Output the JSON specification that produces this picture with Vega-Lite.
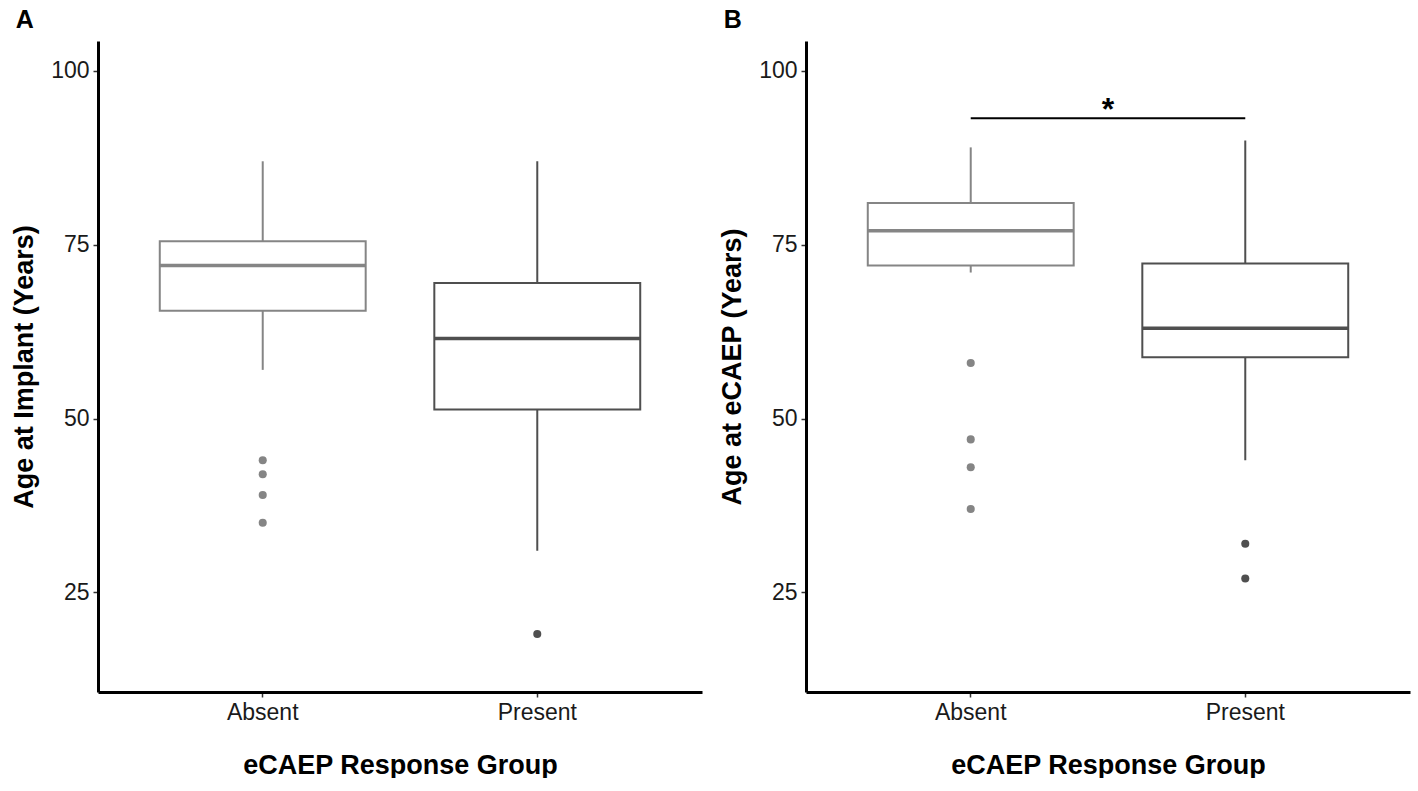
{
  "$schema": "https://vega.github.io/schema/vega-lite/v6.json",
  "background": "white",
  "padding": {"left": 10, "top": 8, "right": 5, "bottom": 0},
  "spacing": 16,
  "config": {
    "view": {"stroke": null},
    "font": "Liberation Sans",
    "axis": {
      "grid": false,
      "domainColor": "black",
      "domainWidth": 3,
      "tickColor": "#333333",
      "tickWidth": 1.5,
      "tickSize": 5,
      "labelFont": "Liberation Sans",
      "labelFontSize": 23,
      "labelColor": "#1a1a1a",
      "labelPadding": 4,
      "titleFont": "Liberation Sans",
      "titleFontSize": 27,
      "titleFontWeight": "bold",
      "titleColor": "black"
    },
    "axisX": {"labelAngle": 0, "titlePadding": 28},
    "axisY": {"titlePadding": 12},
    "title": {
      "font": "Liberation Sans",
      "fontSize": 25,
      "fontWeight": "bold",
      "color": "black",
      "anchor": "start",
      "frame": "bounds",
      "dx": 5,
      "offset": 8
    }
  },
  "datasets": {
    "boxes": [
      {"panel": "A", "group": "Absent", "lower": 57, "q1": 65.5, "median": 72, "q3": 75.5, "upper": 87},
      {"panel": "A", "group": "Present", "lower": 31, "q1": 51.3, "median": 61.5, "q3": 69.5, "upper": 87},
      {"panel": "B", "group": "Absent", "lower": 71, "q1": 72, "median": 77, "q3": 81, "upper": 89},
      {"panel": "B", "group": "Present", "lower": 44, "q1": 58.8, "median": 63, "q3": 72.3, "upper": 90}
    ],
    "outliers": [
      {"panel": "A", "group": "Absent", "age": 44},
      {"panel": "A", "group": "Absent", "age": 42},
      {"panel": "A", "group": "Absent", "age": 39},
      {"panel": "A", "group": "Absent", "age": 35},
      {"panel": "A", "group": "Present", "age": 19},
      {"panel": "B", "group": "Absent", "age": 58},
      {"panel": "B", "group": "Absent", "age": 47},
      {"panel": "B", "group": "Absent", "age": 43},
      {"panel": "B", "group": "Absent", "age": 37},
      {"panel": "B", "group": "Present", "age": 32},
      {"panel": "B", "group": "Present", "age": 27}
    ],
    "signif": [
      {"from": 1, "to": 2, "mid": 1.5, "y": 93.2, "label": "*"}
    ]
  },
  "hconcat": [
    {
      "title": {"text": "A"},
      "width": 604,
      "height": 651,
      "layer": [
        {
          "data": {"name": "boxes"},
          "transform": [{"filter": "datum.panel == 'A'"}],
          "mark": {"type": "rule", "strokeWidth": 2},
          "encoding": {
            "x": {"field": "group", "type": "nominal", "title": "eCAEP Response Group",
                  "scale": {"paddingInner": 0.25, "paddingOuter": 0.225}},
            "y": {"field": "lower", "type": "quantitative", "title": "Age at Implant (Years)",
                  "scale": {"domain": [10.67, 104.3], "nice": false, "zero": false},
                  "axis": {"values": [25, 50, 75, 100]}},
            "y2": {"field": "upper"},
            "color": {"field": "group", "type": "nominal", "legend": null,
                      "scale": {"domain": ["Absent", "Present"], "range": ["#858585", "#4f4f4f"]}}
          }
        },
        {
          "data": {"name": "boxes"},
          "transform": [{"filter": "datum.panel == 'A'"}],
          "mark": {"type": "bar", "fill": "white", "strokeWidth": 2},
          "encoding": {
            "x": {"field": "group", "type": "nominal"},
            "y": {"field": "q1", "type": "quantitative"},
            "y2": {"field": "q3"},
            "stroke": {"field": "group", "type": "nominal", "legend": null,
                       "scale": {"domain": ["Absent", "Present"], "range": ["#858585", "#4f4f4f"]}}
          }
        },
        {
          "data": {"name": "boxes"},
          "transform": [{"filter": "datum.panel == 'A'"}],
          "mark": {"type": "tick", "thickness": 3.5, "size": 206, "opacity": 1},
          "encoding": {
            "x": {"field": "group", "type": "nominal"},
            "y": {"field": "median", "type": "quantitative"},
            "color": {"field": "group", "type": "nominal", "legend": null}
          }
        },
        {
          "data": {"name": "outliers"},
          "transform": [{"filter": "datum.panel == 'A'"}],
          "mark": {"type": "circle", "size": 65, "opacity": 1},
          "encoding": {
            "x": {"field": "group", "type": "nominal"},
            "y": {"field": "age", "type": "quantitative"},
            "color": {"field": "group", "type": "nominal", "legend": null}
          }
        }
      ]
    },
    {
      "title": {"text": "B"},
      "width": 604,
      "height": 651,
      "resolve": {"scale": {"x": "independent"}},
      "layer": [
        {
          "layer": [
            {
              "data": {"name": "boxes"},
              "transform": [{"filter": "datum.panel == 'B'"}],
              "mark": {"type": "rule", "strokeWidth": 2},
              "encoding": {
                "x": {"field": "group", "type": "nominal", "title": "eCAEP Response Group",
                      "scale": {"paddingInner": 0.25, "paddingOuter": 0.225}},
                "y": {"field": "lower", "type": "quantitative", "title": "Age at eCAEP (Years)",
                      "scale": {"domain": [10.67, 104.3], "nice": false, "zero": false},
                      "axis": {"values": [25, 50, 75, 100]}},
                "y2": {"field": "upper"},
                "color": {"field": "group", "type": "nominal", "legend": null,
                          "scale": {"domain": ["Absent", "Present"], "range": ["#858585", "#4f4f4f"]}}
              }
            },
            {
              "data": {"name": "boxes"},
              "transform": [{"filter": "datum.panel == 'B'"}],
              "mark": {"type": "bar", "fill": "white", "strokeWidth": 2},
              "encoding": {
                "x": {"field": "group", "type": "nominal"},
                "y": {"field": "q1", "type": "quantitative"},
                "y2": {"field": "q3"},
                "stroke": {"field": "group", "type": "nominal", "legend": null,
                           "scale": {"domain": ["Absent", "Present"], "range": ["#858585", "#4f4f4f"]}}
              }
            },
            {
              "data": {"name": "boxes"},
              "transform": [{"filter": "datum.panel == 'B'"}],
              "mark": {"type": "tick", "thickness": 3.5, "size": 206, "opacity": 1},
              "encoding": {
                "x": {"field": "group", "type": "nominal"},
                "y": {"field": "median", "type": "quantitative"},
                "color": {"field": "group", "type": "nominal", "legend": null}
              }
            },
            {
              "data": {"name": "outliers"},
              "transform": [{"filter": "datum.panel == 'B'"}],
              "mark": {"type": "circle", "size": 65, "opacity": 1},
              "encoding": {
                "x": {"field": "group", "type": "nominal"},
                "y": {"field": "age", "type": "quantitative"},
                "color": {"field": "group", "type": "nominal", "legend": null}
              }
            }
          ]
        },
        {
          "data": {"name": "signif"},
          "layer": [
            {
              "mark": {"type": "rule", "strokeWidth": 2, "color": "black"},
              "encoding": {
                "x": {"field": "from", "type": "quantitative", "axis": null,
                      "scale": {"domain": [0.4, 2.6], "nice": false, "zero": false}},
                "x2": {"field": "to"},
                "y": {"field": "y", "type": "quantitative"}
              }
            },
            {
              "mark": {"type": "text", "fontSize": 32, "fontWeight": "bold", "font": "Liberation Sans",
                       "baseline": "alphabetic", "dy": 2, "color": "black"},
              "encoding": {
                "x": {"field": "mid", "type": "quantitative", "axis": null,
                      "scale": {"domain": [0.4, 2.6], "nice": false, "zero": false}},
                "y": {"field": "y", "type": "quantitative"},
                "text": {"field": "label"}
              }
            }
          ]
        }
      ]
    }
  ]
}
